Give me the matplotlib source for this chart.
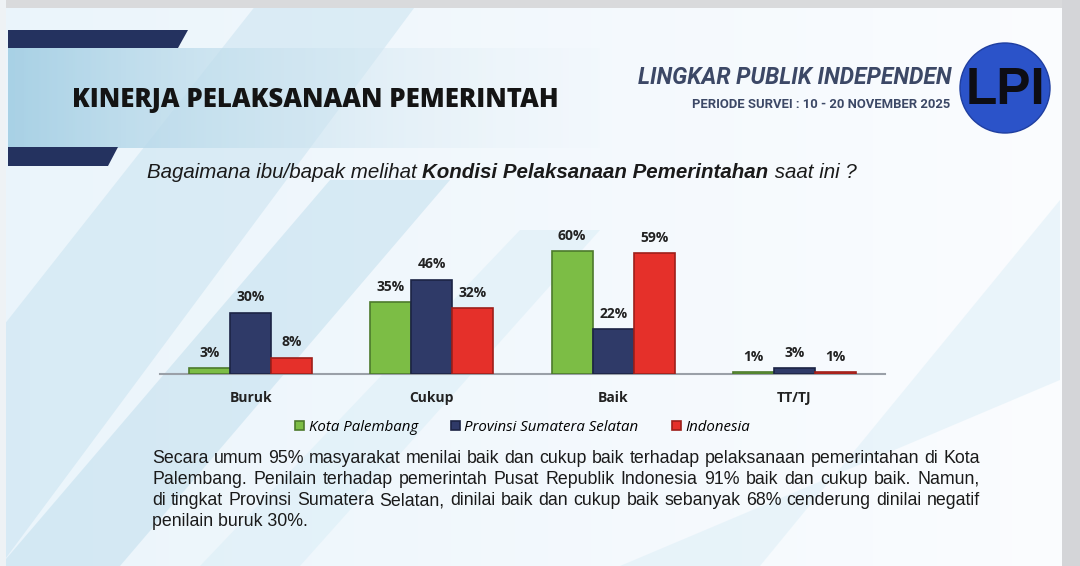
import matplotlib
matplotlib.use("Agg")
from matplotlib import pyplot as plt
from matplotlib import font_manager
from matplotlib.patches import Polygon, Circle, Rectangle
import numpy as np

# data
categories = ['Buruk', 'Cukup', 'Baik', 'TT/TJ']
series_names = ['Kota Palembang', 'Provinsi Sumatera Selatan', 'Indonesia']
kota = [3, 35, 60, 1]
provinsi = [30, 46, 22, 3]
indonesia = [8, 32, 59, 1]
values = [kota, provinsi, indonesia]

colors = ['#7cbd45', '#2f3a68', '#e5302a']
edges = ['#4d7a2c', '#1c2445', '#9e1f1a']

paragraph = [
    "Secara umum 95% masyarakat menilai baik dan cukup baik terhadap pelaksanaan pemerintahan di Kota",
    "Palembang. Penilain terhadap pemerintah Pusat  Republik Indonesia 91% baik dan cukup baik. Namun,",
    "di tingkat Provinsi Sumatera Selatan, dinilai baik dan cukup baik sebanyak 68% cenderung dinilai negatif",
    "penilain buruk 30%.",
]

installed = {f.name for f in font_manager.fontManager.ttflist}
para_font = 'Liberation Sans Narrow' if 'Liberation Sans Narrow' in installed else 'Liberation Sans'

W, H = 1080, 566
fig = plt.figure(figsize=(W / 100, H / 100), dpi=100)

# background decorations in pixel coordinates
bg = fig.add_axes([0, 0, 1, 1])
bg.axis('off')
grad = np.linspace(0, 1, 256)
img = np.zeros((2, 256, 3))
c1 = np.array([0.92, 0.96, 0.985])
c2 = np.array([0.985, 0.99, 1.0])
for i in range(3):
    img[:, :, i] = c1[i] + (c2[i] - c1[i]) * grad
bg.imshow(img, extent=[0, W, H, 0], aspect='auto', zorder=0)
# diagonal light blue shapes
bg.add_patch(Polygon([(0, 566), (0, 330), (260, 0), (420, 0)], closed=True,
                     facecolor='#bcdcec', alpha=0.40, lw=0, zorder=1))
bg.add_patch(Polygon([(0, 566), (120, 566), (450, 180), (330, 180)], closed=True,
                     facecolor='#a9d2e6', alpha=0.35, lw=0, zorder=1))
bg.add_patch(Polygon([(200, 566), (300, 566), (600, 230), (520, 230)], closed=True,
                     facecolor='#d6ecf6', alpha=0.45, lw=0, zorder=1))
bg.add_patch(Polygon([(620, 566), (760, 566), (1060, 200), (1060, 380)], closed=True,
                     facecolor='#dbeef7', alpha=0.5, lw=0, zorder=1))
# outer frame
bg.add_patch(Rectangle((0, 0), W, 8, facecolor='#d9dadc', lw=0, zorder=2))
bg.add_patch(Rectangle((1062, 0), 18, H, facecolor='#d4d5d8', lw=0, zorder=2))
bg.add_patch(Rectangle((0, 0), 6, H, facecolor='#eef2f5', lw=0, zorder=2))

# title band
band = np.zeros((2, 256, 4))
for i, (a, b) in enumerate(zip([0.66, 0.82, 0.90], [0.93, 0.96, 0.98])):
    band[:, :, i] = a + (b - a) * grad
band[:, :, 3] = 1 - 0.85 * grad
bg.imshow(band, extent=[8, 600, 148, 48], aspect='auto', zorder=2)
bg.add_patch(Polygon([(8, 30), (188, 30), (178, 48), (8, 48)], closed=True,
                     facecolor='#24325f', lw=0, zorder=3))
bg.add_patch(Polygon([(8, 147), (118, 147), (108, 166), (8, 166)], closed=True,
                     facecolor='#24325f', lw=0, zorder=3))
bg.set_xlim(0, W)
bg.set_ylim(H, 0)

# logo
bg.add_patch(Circle((1005, 88), 45, facecolor='#2b53c9', edgecolor='#1f3ea0', lw=1, zorder=4))
bg.text(1005, 90, 'LPI', ha='center', va='center', fontsize=37, fontweight='bold',
        family='Liberation Sans', color='#0d0d14', zorder=5)

bg.text(72, 100, 'KINERJA PELAKSANAAN PEMERINTAH', ha='left', va='center',
        fontsize=18.5, fontweight='heavy', family='Open Sans', color='#141414', zorder=5)
bg.text(952, 78, 'LINGKAR PUBLIK INDEPENDEN', ha='right', va='center', fontsize=16.5,
        fontweight='bold', style='italic', family='Roboto', color='#3c4866', zorder=5)
bg.text(950, 104, 'PERIODE SURVEI : 10 - 20 NOVEMBER 2025', ha='right', va='center',
        fontsize=9.4, fontweight='bold', family='Roboto', color='#3c4866', zorder=5)

renderer = fig.canvas.get_renderer()


def run_text(x, y, parts, size, family):
    # draw text pieces one after another on the same baseline
    for s, weight, style in parts:
        t = bg.text(x, y, s, ha='left', va='baseline', fontsize=size, fontweight=weight,
                    style=style, family=family, color='#1a1a1a', zorder=5)
        bb = t.get_window_extent(renderer=renderer)
        x += bb.width


run_text(147, 178, [('Bagaimana ibu/bapak melihat ', 'normal', 'italic'),
                    ('Kondisi Pelaksanaan Pemerintahan', 'bold', 'italic'),
                    (' saat ini ?', 'normal', 'italic')], 14.8, 'Liberation Sans')

# paragraph, justified lines; font size fitted to the first line's width
left, right = 152, 980
probe = bg.text(0, 0, paragraph[0], fontsize=10, family=para_font)
w10 = probe.get_window_extent(renderer=renderer).width
probe.remove()
psize = min(10 * 826 / w10, 13.5)
for k, line in enumerate(paragraph):
    y = 463 + k * 21
    words = line.split()
    if k == len(paragraph) - 1:
        bg.text(left, y, line, ha='left', va='baseline', fontsize=psize,
                family=para_font, color='#1a1a1a', zorder=5)
        continue
    txts = []
    total = 0
    for w in words:
        t = bg.text(0, y, w, ha='left', va='baseline', fontsize=psize,
                    family=para_font, color='#1a1a1a', zorder=5)
        total += t.get_window_extent(renderer=renderer).width
        txts.append(t)
    gap = (right - left - total) / (len(words) - 1)
    x = left
    for t in txts:
        t.set_x(x)
        x += t.get_window_extent(renderer=renderer).width + gap

# chart
ax = fig.add_axes([160 / W, 1 - 374 / H, 725 / W, 143.5 / H])
ax.patch.set_alpha(0)
x = np.arange(len(categories))
bw = 0.226
for i in range(3):
    pos = x + (i - 1) * bw
    ax.bar(pos, values[i], bw, color=colors[i], edgecolor=edges[i], linewidth=1.2,
           label=series_names[i], zorder=3)
    for p, v in zip(pos, values[i]):
        ax.annotate(f'{v}%', (p, v), xytext=(0, 6), textcoords='offset points',
                    ha='center', va='bottom', fontsize=10, fontweight='bold',
                    family='Open Sans', color='#222222')
ax.set_xlim(-0.5, 3.5)
ax.set_ylim(0, 70)
for s in ['top', 'right', 'left']:
    ax.spines[s].set_visible(False)
ax.spines['bottom'].set_color('#9aa0a8')
ax.spines['bottom'].set_linewidth(1.5)
ax.set_yticks([])
ax.set_xticks(x)
ax.set_xticklabels(categories, fontsize=10, fontweight='bold', family='Open Sans', color='#222222')
ax.tick_params(axis='x', length=0, pad=12)

leg = ax.legend(loc='center', bbox_to_anchor=(0.5, -0.37), ncol=3, frameon=False,
                handlelength=0.6, handleheight=0.6, handletextpad=0.3, columnspacing=2.2,
                prop={'family': 'Open Sans', 'style': 'italic', 'weight': 'medium', 'size': 10.8})

plt.savefig('out.png', dpi=100)
